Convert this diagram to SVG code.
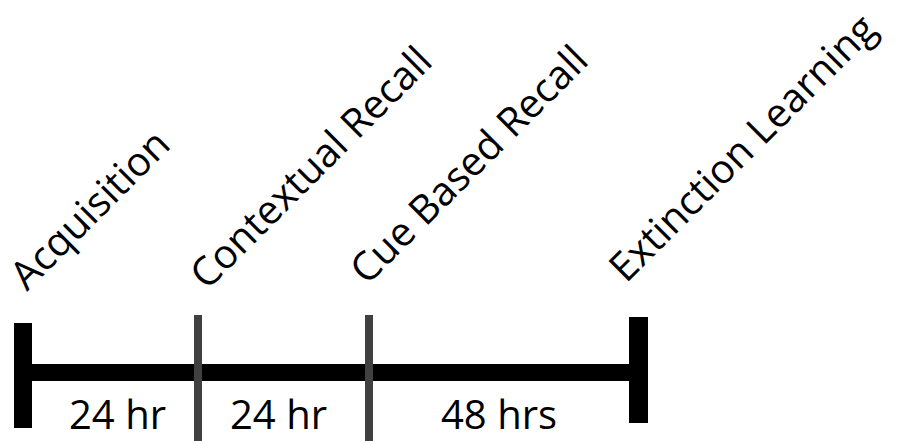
<svg xmlns="http://www.w3.org/2000/svg" width="897" height="441" viewBox="0 0 897 441">
<style>
.lbl{font-family:"Open Sans","Liberation Sans",sans-serif;font-size:40px;fill:#000}
.end{fill:#000}
.tick{fill:#404040}
</style>
<rect width="897" height="441" fill="#fff"/>
<g id="connectors">
<rect class="end" x="32" y="364" width="598" height="17"/>
</g>
<g id="node-acquisition">
<rect class="end" x="14" y="323" width="18" height="105"/>
<text class="lbl" transform="translate(27,292) rotate(-45)">Acquisition</text>
</g>
<g id="node-contextual">
<rect class="tick" x="194" y="315" width="8" height="126"/>
<text class="lbl" transform="translate(207,291) rotate(-45)">Contextual Recall</text>
</g>
<g id="node-cue">
<rect class="tick" x="365" y="315" width="8" height="126"/>
<text class="lbl" transform="translate(367,286) rotate(-45)">Cue Based Recall</text>
</g>
<g id="node-extinction">
<rect class="end" x="629" y="317" width="19" height="106"/>
<text class="lbl" transform="translate(626,284) rotate(-45)">Extinction Learning</text>
</g>
<g id="intervals">
<text class="lbl" x="69" y="429">24 hr</text>
<text class="lbl" x="230" y="429">24 hr</text>
<text class="lbl" x="441" y="429">48 hrs</text>
</g>
</svg>
